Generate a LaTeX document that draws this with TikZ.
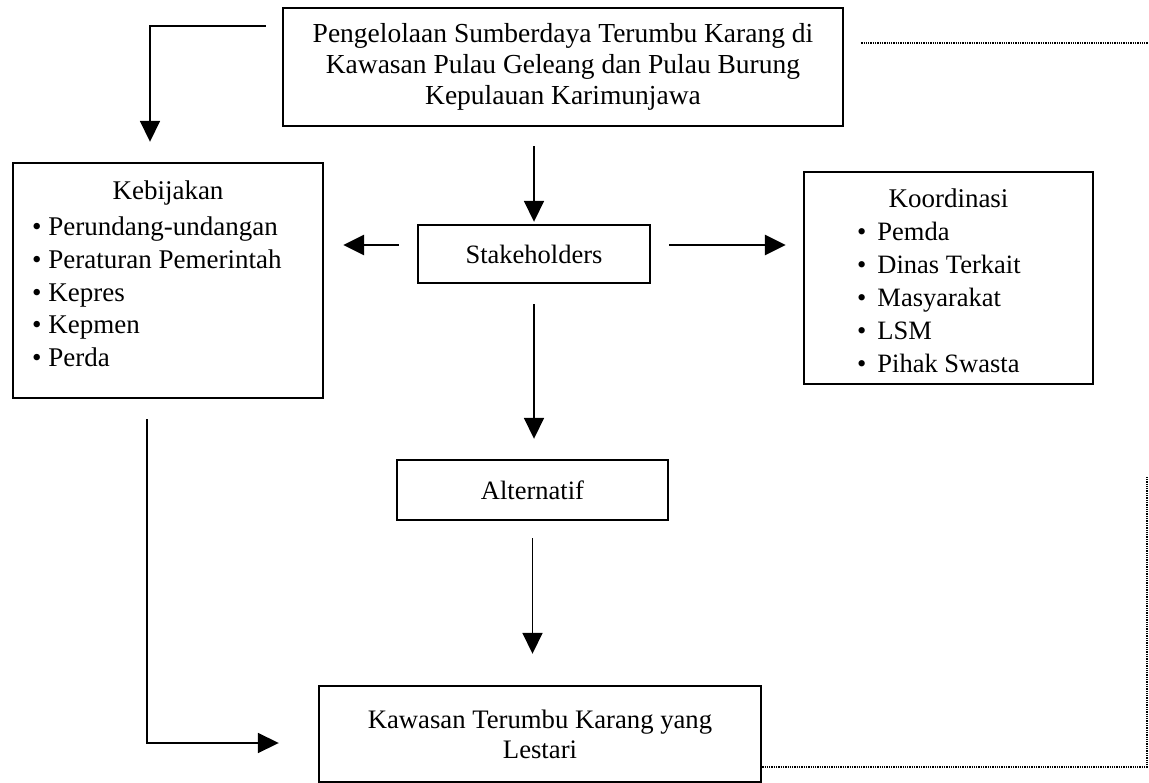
\documentclass[tikz,border=0pt]{standalone}
\usepackage{fontspec}
\setmainfont{Liberation Serif}
\usetikzlibrary{arrows.meta}
\begin{document}
\begin{tikzpicture}[x=1pt,y=-1pt,
  box/.style={draw, line width=2.4pt, inner sep=0pt},
  txt/.style={inner sep=0pt, font=\fontsize{27}{32.7}\selectfont},
  arr/.style={line width=1.8pt, -{Triangle[length=21pt,width=20pt]}},
  harr/.style={arr, line width=2.6pt},
  fb/.style={densely dotted, line width=1.3pt}]
\useasboundingbox (0,0) rectangle (1149,783);

% boxes
\node[box, minimum width=560pt, minimum height=118pt, align=center,
      font=\fontsize{27.5}{31}\selectfont] (top) at (563,67)
  {Pengelolaan Sumberdaya Terumbu Karang di\\Kawasan Pulau Geleang dan Pulau Burung\\Kepulauan Karimunjawa};

\node[box, minimum width=310pt, minimum height=235pt] (keb) at (168,280.5) {};
\node[txt] (kebh) at (168,193) {Kebijakan};
\node[txt, anchor=west, align=left] (kebl) at (32,292)
  {\textbullet\ Perundang-undangan\\\textbullet\ Peraturan Pemerintah\\\textbullet\ Kepres\\\textbullet\ Kepmen\\\textbullet\ Perda};

\node[box, minimum width=232pt, minimum height=58pt, font=\fontsize{26.5}{32}\selectfont] (stake) at (534,254) {Stakeholders};

\node[box, minimum width=289pt, minimum height=212pt] (koor) at (948.5,278) {};
\node[txt] (koorh) at (948.5,198) {Koordinasi};
\node[txt, anchor=west, align=left, font=\fontsize{26.5}{33}\selectfont] (koorl) at (857,297)
  {\textbullet\hspace{11pt}Pemda\\\textbullet\hspace{11pt}Dinas Terkait\\\textbullet\hspace{11pt}Masyarakat\\\textbullet\hspace{11pt}LSM\\\textbullet\hspace{11pt}Pihak Swasta};

\node[box, minimum width=271pt, minimum height=60pt, font=\fontsize{26.5}{32}\selectfont] (alt) at (532.5,490) {Alternatif};

\node[box, minimum width=442pt, minimum height=96pt, align=center,
      font=\fontsize{26.7}{30}\selectfont] (bot) at (540,734)
  {Kawasan Terumbu Karang yang\\Lestari};

% connectors
\draw[arr, shorten <=16pt, shorten >=20pt] ([yshift=41pt]top.west) -| ([xshift=-18pt]keb.north);
\draw[arr, shorten <=19pt, shorten >=2pt] (top.south -| stake.north) -- (stake.north);
\draw[harr, shorten <=18pt, shorten >=19pt] ([yshift=9pt]stake.west) -- ([yshift=9pt]stake.west -| keb.east);
\draw[harr, shorten <=18pt, shorten >=17pt] ([yshift=9pt]stake.east) -- ([yshift=9pt]stake.east -| koor.west);
\draw[arr, shorten <=20pt, shorten >=20pt] (stake.south) -- (stake.south |- alt.north);
\draw[arr, shorten <=17pt, shorten >=31pt] (alt.south) -- (alt.south |- bot.north);
\draw[arr, shorten <=20pt, shorten >=39pt] ([xshift=-21pt]keb.south) |- ([yshift=-9pt]bot.west);

% dotted feedback lines
\coordinate (fbA) at (1148,43);
\coordinate (fbB) at (1147,767);
\coordinate (fbC) at (1147,477);
\draw[fb, shorten <=17pt] ([yshift=24pt]top.east) -- (fbA);
\draw[fb] ([yshift=-33pt]bot.east) -- (fbB) -- (fbC);
\end{tikzpicture}
\end{document}
